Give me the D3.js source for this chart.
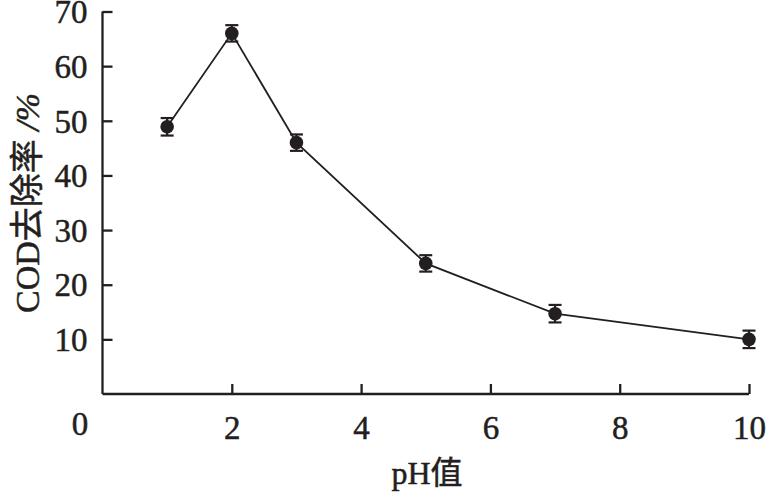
<!DOCTYPE html>
<html>
<head>
<meta charset="utf-8">
<script src="https://cdn.jsdelivr.net/npm/d3@7"></script>
<style>
  body { margin: 0; background: #fff; }
  text { font-family: "Liberation Serif", "Noto Sans CJK SC", serif; fill: #231f20; stroke: #231f20; stroke-width: 0.5px; }
</style>
</head>
<body>
<svg id="chart"></svg>
<script>
// data
var phValues = [1, 2, 3, 5, 7, 10];
var codRemoval = [48.9, 66.0, 46.0, 23.9, 14.7, 10.0];
var errors = [1.6, 1.5, 1.5, 1.5, 1.6, 1.6];
var xTicks = [2, 4, 6, 8, 10];
var yTicks = [10, 20, 30, 40, 50, 60, 70];

var W = 767, H = 492;
var margin = {top: 11.5, right: 18, bottom: 98, left: 102.5};
var width = W - margin.left - margin.right,
    height = H - margin.top - margin.bottom;

var svg = d3.select("#chart").attr("width", W).attr("height", H);
var g = svg.append("g")
  .attr("transform", "translate(" + margin.left + "," + margin.top + ")");

var x = d3.scaleLinear().domain([0, 10]).range([0, 646.5]);
var y = d3.scaleLinear().domain([0, 70]).range([height, 0]);

var ink = "#231f20";

// axes, ticks pointing inwards
var xAxis = g.append("g")
  .attr("transform", "translate(0," + height + ")")
  .call(d3.axisBottom(x).tickValues(xTicks).tickSizeInner(-10).tickSizeOuter(0).tickPadding(22));
var yAxis = g.append("g")
  .call(d3.axisLeft(y).tickValues(yTicks).tickSizeInner(-10).tickSizeOuter(0).tickPadding(15));

[xAxis, yAxis].forEach(function(a) {
  a.select(".domain").attr("stroke", ink).attr("stroke-width", 2.3);
  a.selectAll(".tick line").attr("stroke", ink).attr("stroke-width", 2.3);
  a.selectAll(".tick text")
    .style("font-family", "Liberation Serif")
    .style("font-size", "33px")
    .attr("fill", ink);
});
xAxis.select(".domain").attr("d", "M0,0H" + x(10));
yAxis.select(".domain").attr("d", "M0," + y(0) + "V" + y(70));
xAxis.selectAll(".tick text").attr("dy", "0.71em");
yAxis.selectAll(".tick text").attr("dy", "0.34em");

// shared origin label
g.append("text")
  .attr("x", -22.5).attr("y", height + 41)
  .attr("text-anchor", "middle")
  .style("font-size", "33px")
  .text("0");

var pts = phValues.map(function(p, i) { return {x: p, y: codRemoval[i], e: errors[i]}; });

g.append("path")
  .datum(pts)
  .attr("fill", "none")
  .attr("stroke", ink)
  .attr("stroke-width", 1.8)
  .attr("d", d3.line().x(function(d) { return x(d.x); }).y(function(d) { return y(d.y); }));

var bars = g.selectAll(".err").data(pts).enter().append("g")
  .attr("stroke", ink).attr("stroke-width", 2.2);
bars.append("line")
  .attr("x1", function(d) { return x(d.x); }).attr("x2", function(d) { return x(d.x); })
  .attr("y1", function(d) { return y(d.y + d.e); }).attr("y2", function(d) { return y(d.y - d.e); });
bars.append("line")
  .attr("x1", function(d) { return x(d.x) - 6.5; }).attr("x2", function(d) { return x(d.x) + 6.5; })
  .attr("y1", function(d) { return y(d.y + d.e); }).attr("y2", function(d) { return y(d.y + d.e); });
bars.append("line")
  .attr("x1", function(d) { return x(d.x) - 6.5; }).attr("x2", function(d) { return x(d.x) + 6.5; })
  .attr("y1", function(d) { return y(d.y - d.e); }).attr("y2", function(d) { return y(d.y - d.e); });

g.selectAll(".dot").data(pts).enter().append("circle")
  .attr("cx", function(d) { return x(d.x); })
  .attr("cy", function(d) { return y(d.y); })
  .attr("r", 6.8)
  .attr("fill", ink);

// axis titles
svg.append("text")
  .attr("x", 427).attr("y", 484)
  .attr("text-anchor", "middle")
  .style("font-size", "32px")
  .html('pH<tspan style="font-family:\'Noto Sans CJK SC\'">值</tspan>');

svg.append("text")
  .attr("transform", "translate(39,203) rotate(-90)")
  .attr("text-anchor", "middle")
  .style("font-size", "34px")
  .html('COD<tspan style="font-family:\'Noto Sans CJK SC\'">去除率</tspan> <tspan font-style="italic">/%</tspan>');
</script>
</body>
</html>
